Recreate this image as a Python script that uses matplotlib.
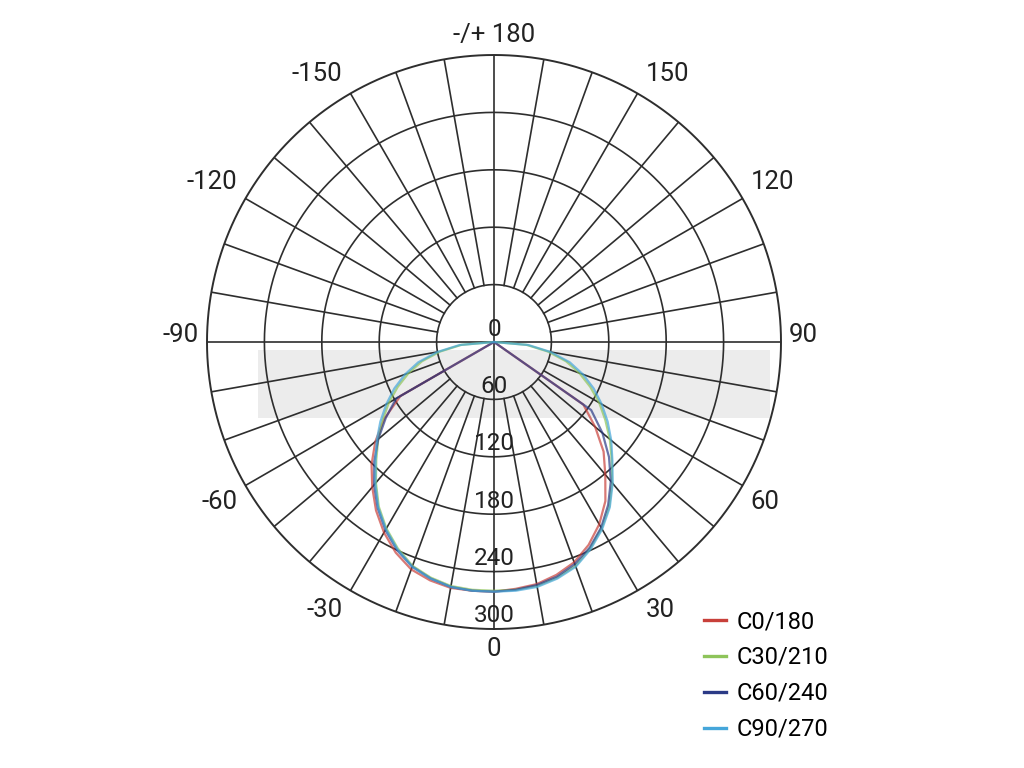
import numpy as np
import matplotlib.pyplot as plt
from matplotlib.lines import Line2D
from matplotlib.patches import Rectangle

plt.rcParams['font.family'] = ['Roboto', 'DejaVu Sans']

# gamma angles (deg) and intensities, right half (+) / left half (-)
gamma = [0, 5, 10, 15, 20, 25, 30, 35, 40, 45, 50, 55, 60, 65, 70, 75, 80, 85, 90]

c0_ang_r = [0, 5, 10, 15, 20, 25, 30, 35, 40, 45, 50, 55, 90]
c0_val_r = [259, 259, 257, 252, 245, 234, 220, 203, 181, 162, 138, 114, 0]
c0_ang_l = [0, 5, 10, 15, 20, 25, 30, 35, 40, 45, 50, 55, 60, 90]
c0_val_l = [261, 261, 261, 258, 253, 243, 230, 215, 198, 181, 162, 140, 113, 0]

c30_val = [260, 260, 259, 255, 249, 238, 225, 210, 192, 174, 158, 142, 127, 111, 95, 78, 57, 34, 0]

c60_ang_r = [0, 5, 10, 15, 20, 25, 30, 35, 40, 45, 50, 55, 90]
c60_val_r = [261, 260, 258, 254, 247, 237, 224, 208, 190, 170, 148, 124, 0]
c60_ang_l = [0, 5, 10, 15, 20, 25, 30, 35, 40, 45, 50, 55, 60, 90]
c60_val_l = [261, 261, 260, 256, 250, 240, 227, 212, 195, 177, 158, 138, 118, 0]

c90_val = [261, 261, 260, 256, 250, 239, 226, 211, 193, 175, 160, 145, 130, 115, 99, 82, 60, 36, 0]

labels = ['C0/180', 'C30/210', 'C60/240', 'C90/270']
colors = ['#c8403a', '#8ec45a', '#2b3a86', '#45a6da']

rings = [60, 120, 180, 240, 300]
theta_ticks = [-150, -120, -90, -60, -30, 0, 30, 60, 90, 120, 150, 180]

fig = plt.figure(figsize=(10.24, 7.68), dpi=100)
fig.patch.set_facecolor('white')

# watermark band
fig.patches.append(Rectangle((258 / 1024, 350 / 768), 512 / 1024, 68 / 768,
                             transform=fig.transFigure, facecolor='#ececec',
                             edgecolor='none', zorder=-1))

ax = fig.add_axes([207 / 1024, 139 / 768, 574 / 1024, 574 / 768], projection='polar')
ax.patch.set_visible(False)
ax.set_theta_zero_location('S')
ax.set_theta_direction(1)
ax.set_ylim(0, 300)
ax.set_xticks([])
ax.set_yticks([])
ax.spines['polar'].set_visible(False)

grid_c = '#2e2e2e'
full = np.linspace(0, 2 * np.pi, 721)
for r in rings:
    ax.plot(full, np.full_like(full, r), color=grid_c, lw=1.4 if r == 300 else 1.2,
            zorder=1, clip_on=False)
for a in range(0, 360, 10):
    t = np.radians(a)
    r0 = 0 if a % 90 == 0 else 60
    ax.plot([t, t], [r0, 300], color=grid_c, lw=1.2, zorder=1)


def both(ang_r, val_r, ang_l, val_l):
    th = [-a for a in ang_l[::-1]] + list(ang_r[1:])
    rr = list(val_l[::-1]) + list(val_r[1:])
    return np.radians(th), rr


series = [
    both(c0_ang_r, c0_val_r, c0_ang_l, c0_val_l),
    both(gamma, c30_val, gamma, c30_val),
    both(c60_ang_r, c60_val_r, c60_ang_l, c60_val_l),
    both(gamma, c90_val, gamma, c90_val),
]
for (th, rr), col in zip(series, colors):
    ax.plot(th, rr, color=col, lw=1.6, alpha=0.7, zorder=3)

# radial value labels along the 0 line
for r in [0] + rings:
    ax.annotate(str(r), xy=(0, r), xytext=(0, 13), textcoords='offset pixels',
                ha='center', va='center', fontsize=17.5, color='#222222', zorder=4)

# angle labels outside the circle
fig.canvas.draw()
renderer = fig.canvas.get_renderer()
for a in theta_ticks:
    lab = '-/+ 180' if a == 180 else str(a)
    t = ax.annotate(lab, xy=(np.radians(a), 300), xytext=(0, 0),
                    textcoords='offset pixels', ha='center', va='center',
                    fontsize=18.5, color='#222222', annotation_clip=False)
    w = t.get_window_extent(renderer).width
    dx, dy = np.sin(np.radians(a)), -np.cos(np.radians(a))
    ox = np.sign(dx) * (w / 2 + 8) if abs(dx) > 0.01 else 0
    oy = np.sign(dy) * 20 * abs(dy) ** 0.25 if abs(dy) > 0.01 else 7
    t.xyann = (ox, oy)

handles = [Line2D([0], [0], color=c, lw=2.4) for c in colors]
fig.legend(handles, labels, loc='upper left', bbox_to_anchor=(704 / 1024, 1 - 610 / 768),
           frameon=False, fontsize=17, handlelength=0.95, handletextpad=0.45,
           labelspacing=0.55, borderpad=0, borderaxespad=0)

fig.savefig('out.png', dpi=100)
